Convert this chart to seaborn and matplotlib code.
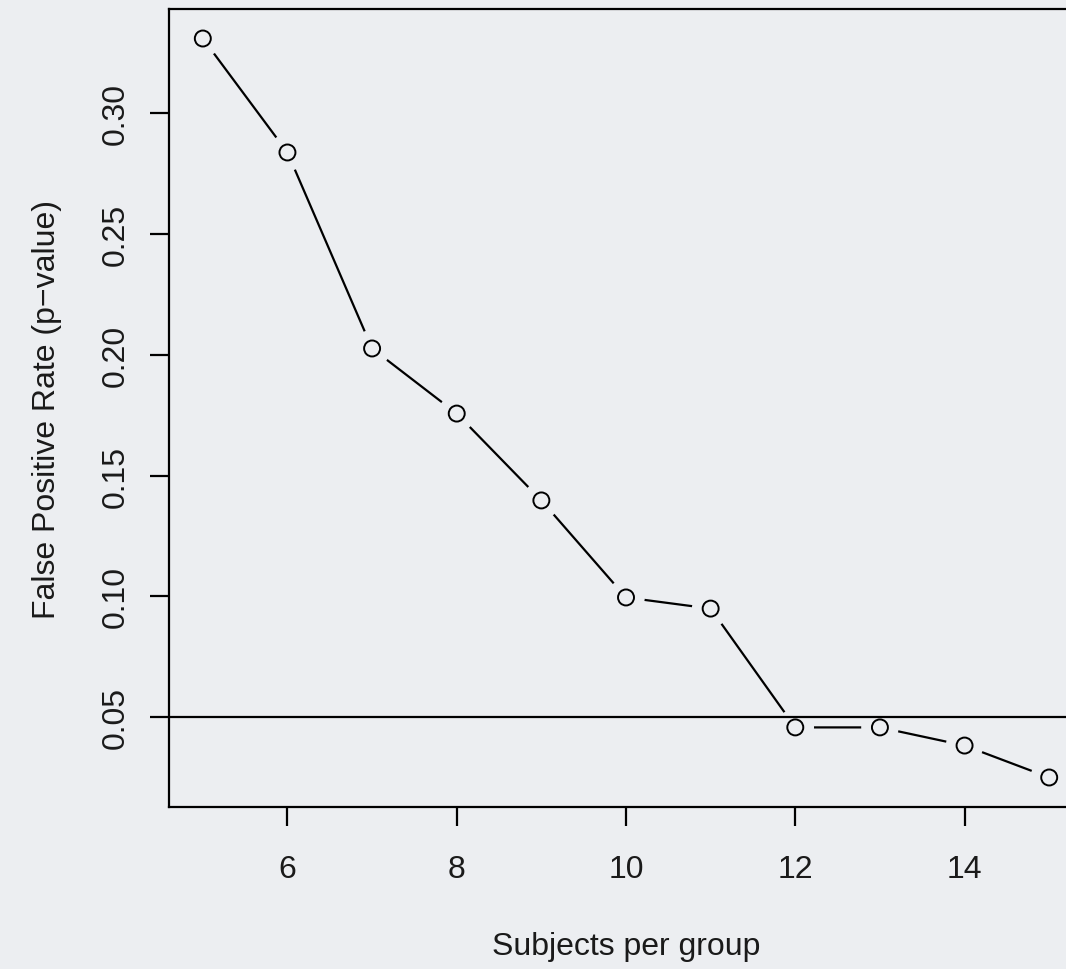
import matplotlib
matplotlib.use("Agg")
import matplotlib.pyplot as plt
import seaborn as sns
import pandas as pd

# Simulated false positive rate by group size
subjects = [5, 6, 7, 8, 9, 10, 11, 12, 13, 14, 15]
fpr = [0.3306, 0.2835, 0.2025, 0.1756, 0.1397, 0.0996, 0.0950, 0.0459, 0.0459, 0.0384, 0.0252]
alpha = 0.05
xticks = [6, 8, 10, 12, 14]
yticks = [0.05, 0.10, 0.15, 0.20, 0.25, 0.30]

bg = "#eceef1"
sns.set_theme(style="white")
plt.rcParams["font.family"] = ["Liberation Sans", "DejaVu Sans"]

df = pd.DataFrame({"n": subjects, "p": fpr})

fig = plt.figure(figsize=(10.66, 9.70), dpi=100, facecolor=bg)
ax = fig.add_axes([0.1585, 0.167, 1.016 - 0.1585, 0.9897 - 0.167])
ax.set_facecolor(bg)

lw = 1.6
# connecting line, with gaps around each point like R's type="b"
sns.lineplot(data=df, x="n", y="p", color="black", linewidth=lw, ax=ax, zorder=2)
sns.scatterplot(data=df, x="n", y="p", s=27**2, color=bg, edgecolor="none",
                linewidth=0, ax=ax, zorder=3)
sns.scatterplot(data=df, x="n", y="p", s=11.5**2, facecolor="none",
                edgecolor="black", linewidth=1.4, ax=ax, zorder=5)

# significance threshold
ax.axhline(alpha, color="black", linewidth=lw, zorder=4)

ax.set_xlim(4.6, 15.4)
ax.set_ylim(0.0130, 0.3428)
ax.set_xticks(xticks)
ax.set_xticklabels([str(t) for t in xticks])
ax.set_yticks(yticks)
ax.set_yticklabels([f"{t:.2f}" for t in yticks], rotation=90, va="center")

ax.tick_params(axis="both", direction="out", length=13.5, width=lw,
               color="black", labelsize=23, labelcolor="#1a1a1a",
               bottom=True, left=True)
ax.tick_params(axis="x", pad=20)
ax.tick_params(axis="y", pad=14)

for side in ["left", "bottom", "top", "right"]:
    ax.spines[side].set_visible(True)
    ax.spines[side].set_color("black")
    ax.spines[side].set_linewidth(lw)

ax.set_xlabel("Subjects per group", fontsize=23, color="#1a1a1a", labelpad=34)
ax.set_ylabel("False Positive Rate (p\u2212value)", fontsize=23, color="#1a1a1a", labelpad=28)

fig.savefig("out.png", dpi=100, facecolor=bg)
